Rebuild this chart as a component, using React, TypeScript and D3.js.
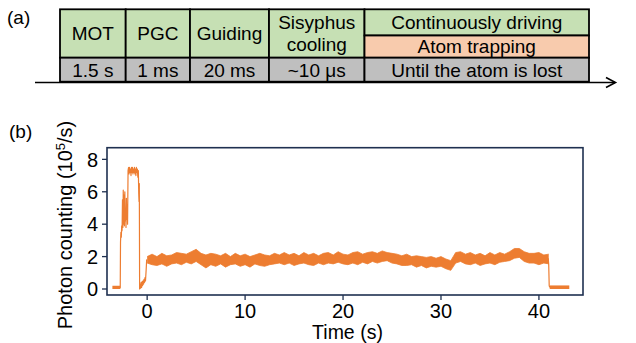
import React from "react";
import * as d3 from "d3";

// ---------- Panel (a) data ----------
const stageTop = ["MOT", "PGC", "Guiding", "Sisyphus\ncooling", "Continuously driving"];
const stageExtra = "Atom trapping";
const durations = ["1.5 s", "1 ms", "20 ms", "~10 μs", "Until the atom is lost"];

// ---------- Panel (b) data ----------
const xTicks = [0, 10, 20, 30, 40];
const yTicks = [0, 2, 4, 6, 8];

// Early transient trace (time s, counts 1e5/s)
const earlyT = [-2.75,
  -2.72, -2.68, -2.64, -2.6, -2.56, -2.52, -2.48, -2.44, -2.4, -2.36, -2.32, -2.28, -2.24, -2.2, -2.16, -2.12, -2.08, -2.04, -2.0,
  -1.95, -1.9, -1.85, -1.8, -1.75, -1.7, -1.65, -1.6, -1.55, -1.5, -1.45, -1.4, -1.35, -1.3, -1.25, -1.2, -1.15, -1.1, -1.05, -1.0, -0.95, -0.9,
  -0.86, -0.83, -0.8, -0.77, -0.72, -0.67, -0.62, -0.57, -0.52, -0.47, -0.42, -0.37, -0.32, -0.27, -0.22, -0.17, -0.1, -0.05, 0.0];
const earlyV = [0.05,
  2.9, 3.5, 3.2, 3.9, 3.6, 5.5, 3.8, 6.1, 4.0, 5.8, 3.9, 6.0, 4.2, 5.0, 3.8, 5.6, 4.3, 5.2, 4.0,
  7.3, 7.5, 7.1, 7.5, 7.2, 7.4, 7.0, 7.5, 7.2, 7.5, 7.1, 7.4, 7.2, 7.5, 7.1, 7.4, 7.0, 7.5, 7.2, 7.4, 6.9, 7.3,
  5.9, 5.4, 6.5, 0.0, 0.3, 0.05, 0.4, 0.1, 0.45, 0.2, 0.5, 0.3, 0.6, 0.4, 0.7, 0.5, 1.2, 1.8, 1.8];

// Background level before loading and after loss: [start, end, low, high]
const preBg = [-3.55, -2.75, 0.0, 0.2];
const postBg = [41.1, 43.1, 0.0, 0.22];
const dropT = [40.95, 41.0, 41.05, 41.1];
const dropV = [1.9, 1.5, 0.2, 0.1];

// Steady fluorescence band, sampled every 0.5 s from 0 to 41 s
const bandStep = 0.5;
const bandUpper = [2.0, 2.15, 2.0, 2.2, 2.05, 2.1, 2.25, 2.2, 2.15, 2.3, 2.45, 2.2, 2.1, 2.2, 2.15, 2.05, 2.2, 2.0, 2.2, 2.05,
  2.15, 2.0, 2.1, 2.2, 2.1, 2.05, 2.2, 2.1, 2.25, 2.1, 2.2, 2.05, 2.25, 2.1, 2.2, 2.05, 2.2, 2.25, 2.1, 2.3,
  2.15, 2.1, 2.25, 2.3, 2.15, 2.25, 2.3, 2.2, 2.35, 2.25, 2.2, 2.15, 2.05, 2.15, 2.0, 2.05, 2.0, 1.95, 2.0, 1.9,
  2.0, 1.85, 1.75, 2.25, 2.3, 2.15, 2.25, 2.1, 2.2, 2.05, 2.25, 2.1, 2.25, 2.15, 2.3, 2.5, 2.5, 2.3, 2.2, 2.2,
  2.25, 2.1, 2.15];
const bandLower = [1.6, 1.5, 1.45, 1.55, 1.4, 1.55, 1.6, 1.5, 1.65, 1.55, 1.7, 1.5, 1.3, 1.5, 1.4, 1.55, 1.35, 1.5, 1.55, 1.4,
  1.5, 1.35, 1.55, 1.45, 1.4, 1.5, 1.55, 1.6, 1.5, 1.6, 1.45, 1.55, 1.6, 1.5, 1.45, 1.6, 1.5, 1.6, 1.55, 1.65,
  1.55, 1.5, 1.6, 1.5, 1.65, 1.55, 1.7, 1.6, 1.7, 1.75, 1.6, 1.55, 1.45, 1.45, 1.5, 1.35, 1.45, 1.3, 1.4, 1.35,
  1.4, 1.25, 1.15, 1.6, 1.7, 1.55, 1.5, 1.6, 1.45, 1.55, 1.6, 1.5, 1.65, 1.7, 1.75, 1.9, 1.95, 1.7, 1.6, 1.6,
  1.5, 1.6, 1.55];

const ORANGE = "#ED7D31";
const FRAME = "#1F3050";
const FONT = "'Liberation Sans', Arial, Helvetica, sans-serif";

function PanelA() {
  const cols = [60, 125.7, 190, 269, 364.5, 589];
  const top = 9.3, split = 35.5, mid = 57.7, bottom = 81.7;
  const green = "#C6E0B4", orange = "#F8CBAD", gray = "#BFBFBF";
  const fs = 19;
  return (
    <g fontFamily={FONT} fontSize={fs} fill="#000">
      <text x={7} y={24}>(a)</text>
      {stageTop.map((s, i) => {
        const x0 = cols[i], x1 = cols[i + 1];
        const cx = (x0 + x1) / 2;
        const last = i === stageTop.length - 1;
        const lines = s.split("\n");
        const y1 = last ? split : mid;
        const cy = (top + y1) / 2;
        return (
          <g key={s}>
            <rect x={x0} y={top} width={x1 - x0} height={y1 - top} fill={green} stroke="#000" strokeWidth={1.8} />
            {lines.map((l, j) => (
              <text key={j} x={cx} y={cy + (j - (lines.length - 1) / 2) * 22} dy="0.35em" textAnchor="middle">{l}</text>
            ))}
          </g>
        );
      })}
      <rect x={cols[4]} y={split} width={cols[5] - cols[4]} height={mid - split} fill={orange} stroke="#000" strokeWidth={1.8} />
      <text x={(cols[4] + cols[5]) / 2} y={(split + mid) / 2} dy="0.35em" textAnchor="middle">{stageExtra}</text>
      {durations.map((d, i) => {
        const x0 = cols[i], x1 = cols[i + 1];
        return (
          <g key={d}>
            <rect x={x0} y={mid} width={x1 - x0} height={bottom - mid} fill={gray} stroke="#000" strokeWidth={1.8} />
            <text x={(x0 + x1) / 2} y={(mid + bottom) / 2 + 1} dy="0.35em" textAnchor="middle">{d}</text>
          </g>
        );
      })}
      <line x1={35} y1={82.5} x2={615} y2={82.5} stroke="#000" strokeWidth={1.6} />
      <polyline points="606,77.5 615.5,82.5 606,87.5" fill="none" stroke="#000" strokeWidth={1.6} />
    </g>
  );
}

function PanelB() {
  const x = d3.scaleLinear().domain([-4.1, 44.5]).range([107, 583]);
  const y = d3.scaleLinear().domain([-0.37, 8.72]).range([295, 147.7]);
  const [x0, x1] = x.range();
  const [yb, yt] = y.range();

  const bandT = bandUpper.map((_, i) => i * bandStep);
  const area = d3.area<number>()
    .x((_, i) => x(bandT[i]))
    .y0((_, i) => y(bandLower[i]))
    .y1((_, i) => y(bandUpper[i]));
  const edge = d3.line<number>().x((_, i) => x(bandT[i])).y((v) => y(v));
  const early = d3.line<number>().x((_, i) => x(earlyT[i])).y((v) => y(v));
  const drop = d3.line<number>().x((_, i) => x(dropT[i])).y((v) => y(v));
  const bg = (b: number[]) => (
    <rect x={x(b[0])} y={y(b[3])} width={x(b[1]) - x(b[0])} height={y(b[2]) - y(b[3])} fill={ORANGE} />
  );

  return (
    <g fontFamily={FONT} fill="#000">
      <text x={9} y={138} fontSize={19}>(b)</text>
      {/* trace */}
      {bg(preBg)}
      {bg(postBg)}
      <path d={area(bandUpper) || ""} fill={ORANGE} />
      <path d={edge(bandUpper) || ""} fill="none" stroke={ORANGE} strokeWidth={0.8} />
      <path d={edge(bandLower) || ""} fill="none" stroke={ORANGE} strokeWidth={0.8} />
      <path d={early(earlyV) || ""} fill="none" stroke={ORANGE} strokeWidth={1.2} strokeLinejoin="round" />
      <path d={drop(dropV) || ""} fill="none" stroke={ORANGE} strokeWidth={1.2} />
      {/* frame */}
      <rect x={x0} y={yt} width={x1 - x0} height={yb - yt} fill="none" stroke={FRAME} strokeWidth={1.6} />
      {/* y ticks */}
      {yTicks.map((t) => (
        <g key={"y" + t}>
          <line x1={x0 - 5} x2={x0} y1={y(t)} y2={y(t)} stroke={FRAME} strokeWidth={1.3} />
          <text x={x0 - 9} y={y(t)} dy="0.36em" textAnchor="end" fontSize={20}>{t}</text>
        </g>
      ))}
      {/* x ticks */}
      {xTicks.map((t) => (
        <g key={"x" + t}>
          <line x1={x(t)} x2={x(t)} y1={yb} y2={yb + 5} stroke={FRAME} strokeWidth={1.3} />
          <text x={x(t)} y={318} textAnchor="middle" fontSize={20}>{t}</text>
        </g>
      ))}
      <text x={347.5} y={339} textAnchor="middle" fontSize={19.5}>Time (s)</text>
      <text transform="translate(72,225) rotate(-90)" textAnchor="middle" fontSize={20}>
        Photon counting (10<tspan dy={-7} fontSize={13}>5</tspan><tspan dy={7}>/s)</tspan>
      </text>
    </g>
  );
}

export default function App() {
  return (
    <div style={{ position: "absolute", left: 0, top: 0 }}>
      <svg width={636} height={343} style={{ display: "block", background: "#fff" }}>
        <PanelA />
        <PanelB />
      </svg>
    </div>
  );
}
